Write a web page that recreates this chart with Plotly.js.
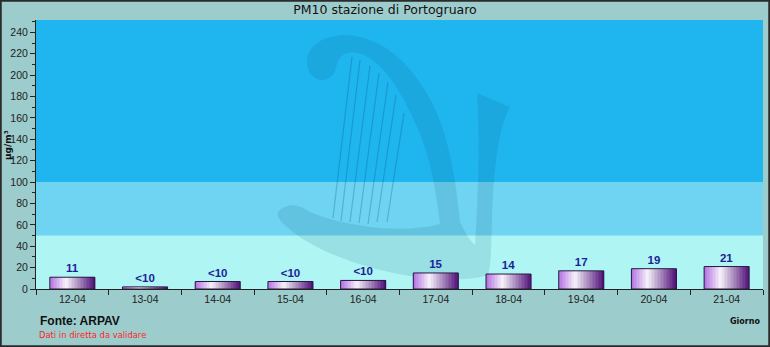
<!DOCTYPE html>
<html>
<head>
<meta charset="utf-8">
<script src="https://cdn.plot.ly/plotly-3.0.1.min.js"></script>
<style>
html,body{margin:0;padding:0;background:#9ccccc;}
#chart{width:770px;height:347px;}
</style>
</head>
<body>
<div id="chart"></div>
<script>
// ---- data ----
const categories = ["12-04","13-04","14-04","15-04","16-04","17-04","18-04","19-04","20-04","21-04"];
const values = [11, 2, 7, 7, 8, 15, 14, 17, 19, 21];
const valueLabels = ["11","<10","<10","<10","<10","15","14","17","19","21"];
const yTickVals = [0,20,40,60,80,100,120,140,160,180,200,220,240];
const bandEdges = [0, 50, 100, 251.5];

// ---- layout constants ----
const W = 770, H = 347;
const M = {l: 36, r: 7, t: 20, b: 58};
const PW = W - M.l - M.r, PH = H - M.t - M.b;
const px = x => (x - M.l) / PW;
const py = y => (H - M.b - y) / PH;

// gradient bars built from overlapping slices
const barWidth = 0.62;
const N = 30;
const stops = [[0, [178,112,226]], [0.36, [246,242,250]], [1, [78,14,118]]];
function colorAt(t) {
  for (let i = 0; i < stops.length - 1; i++) {
    const [t0, c0] = stops[i], [t1, c1] = stops[i+1];
    if (t >= t0 && t <= t1) {
      const f = (t - t0) / (t1 - t0);
      return 'rgb(' + c0.map((c, k) => Math.round(c + (c1[k] - c) * f)).join(',') + ')';
    }
  }
  return 'rgb(78,14,118)';
}
const traces = [];
const sw = barWidth / N;
for (let i = 0; i < N; i++) {
  traces.push({
    type: 'bar', x: categories, y: values,
    width: barWidth - i*sw, offset: -barWidth/2 + i*sw,
    marker: {color: colorAt((i + 0.5) / N), line: {width: 0}},
    hoverinfo: 'skip', showlegend: false
  });
}
traces.push({
  type: 'bar', x: categories, y: values,
  width: barWidth, offset: -barWidth/2,
  marker: {color: 'rgba(0,0,0,0)', line: {color: '#2a1840', width: 1}},
  text: valueLabels, textposition: 'outside', cliponaxis: false,
  textfont: {family: 'Liberation Sans, Arial, sans-serif', size: 11.5, color: '#1e1e96', weight: 'bold'},
  showlegend: false
});

// background bands
const bandColors = ['#aef5f4', '#6fd4f1', '#1fb6f0'];
const shapes = [];
for (let i = 0; i < bandColors.length; i++) {
  shapes.push({type: 'rect', xref: 'paper', yref: 'y', x0: 0, x1: 1,
    y0: bandEdges[i], y1: bandEdges[i+1], fillcolor: bandColors[i], line: {width: 0}, layer: 'below'});
}
// harp watermark (decoration)
const harpFill = 'rgba(0,70,110,0.12)';
function pathFromPixels(cmds) {
  return cmds.map(c => {
    if (typeof c === 'string') return c;
    return px(c[0]).toFixed(4) + ',' + py(c[1]).toFixed(4);
  }).join(' ');
}
// neck with curl
shapes.push({type: 'path', xref: 'paper', yref: 'paper', layer: 'below', fillcolor: harpFill, line: {width: 0},
  path: pathFromPixels(['M', [307,63], 'C', [306,45], [325,35], [347,35], 'C', [385,38], [415,65], [437,113],
    'C', [450,145], [456,180], [460,222], 'L', [440,224], 'C', [436,190], [430,155], [417,127],
    'C', [405,100], [385,60], [358,53], 'C', [345,51], [338,56], [336,68],
    'C', [334,77], [326,81], [320,80], 'C', [312,78], [307,71], [307,63], 'Z'])});
// bottom crescent + pillar
shapes.push({type: 'path', xref: 'paper', yref: 'paper', layer: 'below', fillcolor: harpFill, line: {width: 0},
  path: pathFromPixels(['M', [280,210], 'C', [290,202], [300,205], [310,212], 'C', [340,225], [400,235], [440,224],
    'L', [460,222], 'C', [465,232], [469,240], [475,245], 'C', [478,200], [480,140], [477,93],
    'L', [510,107], 'C', [500,125], [494,160], [492,220], 'C', [491,250], [491,266], [488,275],
    'C', [470,281], [440,280], [410,276], 'C', [350,266], [305,245], [285,225],
    'C', [277,218], [276,213], [280,210], 'Z'])});
// strings
const strings = [[352,57,333,218],[360,60,341,221],[370,66,350,222],[379,73,359,223],[388,82,368,224],[396,95,377,222],[404,113,387,222]];
strings.forEach(s => shapes.push({type: 'line', xref: 'paper', yref: 'paper', layer: 'below',
  x0: px(s[0]), y0: py(s[1]), x1: px(s[2]), y1: py(s[3]), line: {color: 'rgba(0,70,110,0.25)', width: 1.2}}));
// outer frame
shapes.push({type: 'rect', xref: 'paper', yref: 'paper', x0: px(0.75), x1: px(W-0.75), y0: py(H-0.75), y1: py(0.75),
  line: {color: '#2b2b2b', width: 2}, fillcolor: 'rgba(0,0,0,0)', layer: 'above'});

const tickFont = {family: 'Liberation Sans, Arial, sans-serif', size: 10.5, color: '#222'};
const layout = {
  width: W, height: H,
  margin: M,
  paper_bgcolor: '#9ccccc', plot_bgcolor: '#aef5f4',
  bargap: 0, barmode: 'overlay',
  font: {family: 'Liberation Sans, Arial, sans-serif', size: 10, color: '#222'},
  title: {text: 'PM10 stazione di Portogruaro', x: 0.5, xanchor: 'center', y: 1 - 10/H, yanchor: 'middle',
    font: {family: 'DejaVu Sans, Verdana, sans-serif', size: 12.5, color: '#111'}},
  xaxis: {type: 'category', categoryorder: 'array', categoryarray: categories,
    range: [-0.5, categories.length - 0.5],
    showline: true, linecolor: '#222', linewidth: 1,
    ticks: 'outside', tickson: 'boundaries', ticklen: 5, tickcolor: '#222',
    showgrid: false, zeroline: false, fixedrange: true,
    tickfont: tickFont},
  yaxis: {range: [0, 251.5], tickvals: yTickVals, ticks: 'outside', ticklen: 5, tickcolor: '#222',
    minor: {dtick: 10, ticks: 'outside', ticklen: 3, tickcolor: '#222', showgrid: false},
    showline: true, linecolor: '#222', linewidth: 1, showgrid: false, zeroline: false,
    tickfont: tickFont},
  shapes: shapes,
  annotations: [
    {text: 'µg/m³', xref: 'paper', yref: 'paper', x: px(8), y: py(145), xanchor: 'center', yanchor: 'middle',
      textangle: -90, showarrow: false,
      font: {family: 'DejaVu Sans, Verdana, sans-serif', size: 9, color: '#111', weight: 'bold'}},
    {text: 'Giorno', xref: 'paper', yref: 'paper', x: px(762), y: py(321), xanchor: 'right', yanchor: 'middle', showarrow: false,
      font: {family: 'DejaVu Sans, Verdana, sans-serif', size: 8, color: '#111', weight: 'bold'}},
    {text: 'Fonte: ARPAV', xref: 'paper', yref: 'paper', x: px(38), y: py(321), xanchor: 'left', yanchor: 'middle', showarrow: false,
      font: {family: 'Liberation Sans, Arial, sans-serif', size: 12, color: '#111', weight: 'bold'}},
    {text: 'Dati in diretta da validare', xref: 'paper', yref: 'paper', x: px(37), y: py(335), xanchor: 'left', yanchor: 'middle', showarrow: false,
      font: {family: 'DejaVu Sans, Verdana, sans-serif', size: 8.4, color: '#ff2424'}}
  ]
};

Plotly.newPlot('chart', traces, layout, {staticPlot: true, displayModeBar: false});
</script>
</body>
</html>
